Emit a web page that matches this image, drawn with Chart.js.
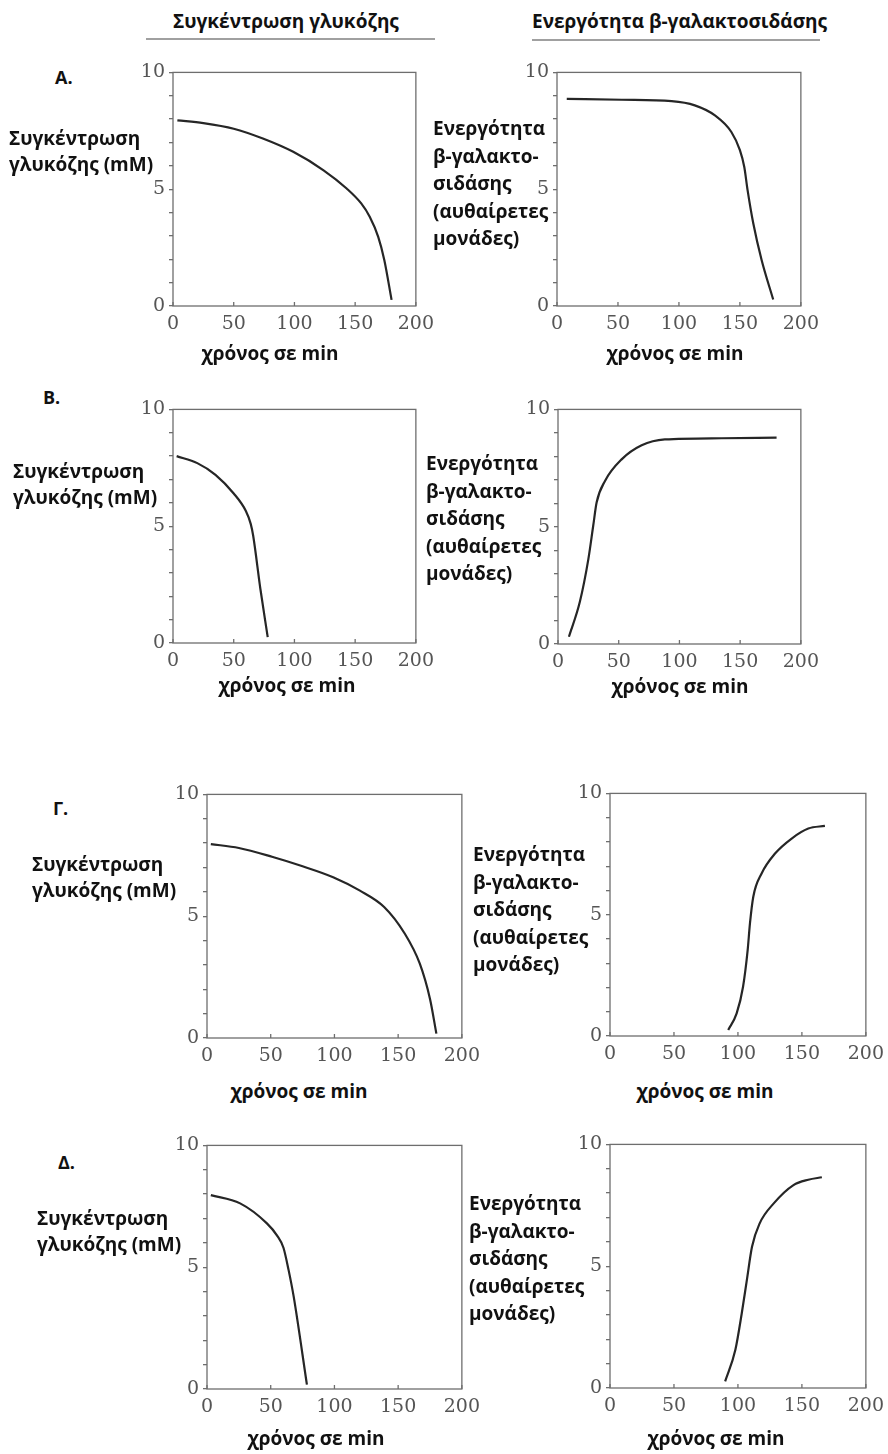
<!DOCTYPE html>
<html lang="el">
<head>
<meta charset="utf-8">
<script src="https://cdn.jsdelivr.net/npm/chart.js@4.4.0/dist/chart.umd.min.js"></script>
<style>
  body { margin: 0; width: 888px; height: 1454px; background: #fff; position: relative; overflow: hidden; font-family: "Open Sans", sans-serif; }
  canvas { position: absolute; z-index: 1; }
  .t { position: absolute; z-index: 2; font-weight: 700; font-size: 19px; color: #111; white-space: nowrap; line-height: 26px; }
  .r { line-height: 27.5px; }
  .c { transform: translateX(-50%); }
  .p { font-size: 18px; }
  .rule { position: absolute; height: 0; border-top: 2px solid #a0a0a0; }
</style>
</head>
<body>

<div class="t" style="left:173px;top:8px">Συγκέντρωση γλυκόζης</div>
<div class="rule" style="left:146px;top:38px;width:289px"></div>
<div class="t" style="left:532px;top:8px">Ενεργότητα β-γαλακτοσιδάσης</div>
<div class="rule" style="left:532px;top:39px;width:288px"></div>

<div class="t p" style="left:55px;top:64px">Α.</div>
<div class="t p" style="left:43px;top:384px">Β.</div>
<div class="t p" style="left:53px;top:795px">Γ.</div>
<div class="t p" style="left:58px;top:1149px">Δ.</div>

<div class="t" style="left:9px;top:125px">Συγκέντρωση<br>γλυκόζης (mM)</div>
<div class="t" style="left:13px;top:458px">Συγκέντρωση<br>γλυκόζης (mM)</div>
<div class="t" style="left:32px;top:851px">Συγκέντρωση<br>γλυκόζης (mM)</div>
<div class="t" style="left:37px;top:1205px">Συγκέντρωση<br>γλυκόζης (mM)</div>

<div class="t r" style="left:433px;top:115px">Ενεργότητα<br>β-γαλακτο-<br>σιδάσης<br>(αυθαίρετες<br>μονάδες)</div>
<div class="t r" style="left:426px;top:450px">Ενεργότητα<br>β-γαλακτο-<br>σιδάσης<br>(αυθαίρετες<br>μονάδες)</div>
<div class="t r" style="left:473px;top:841px">Ενεργότητα<br>β-γαλακτο-<br>σιδάσης<br>(αυθαίρετες<br>μονάδες)</div>
<div class="t r" style="left:469px;top:1190px">Ενεργότητα<br>β-γαλακτο-<br>σιδάσης<br>(αυθαίρετες<br>μονάδες)</div>

<div class="t c" style="left:270px;top:340px">χρόνος σε min</div>
<div class="t c" style="left:675px;top:340px">χρόνος σε min</div>
<div class="t c" style="left:287px;top:672px">χρόνος σε min</div>
<div class="t c" style="left:680px;top:673px">χρόνος σε min</div>
<div class="t c" style="left:299px;top:1078px">χρόνος σε min</div>
<div class="t c" style="left:705px;top:1078px">χρόνος σε min</div>
<div class="t c" style="left:316px;top:1425px">χρόνος σε min</div>
<div class="t c" style="left:716px;top:1425px">χρόνος σε min</div>

<canvas id="aL"></canvas>
<canvas id="aR"></canvas>
<canvas id="bL"></canvas>
<canvas id="bR"></canvas>
<canvas id="gL"></canvas>
<canvas id="gR"></canvas>
<canvas id="dL"></canvas>
<canvas id="dR"></canvas>

<script>
// ---------------- Δεδομένα (χρόνος σε min / τιμές) ----------------
const xTicks = [0, 50, 100, 150, 200];
const yLabels = [0, 5, 10];

// Α.
const glucoseA_t = [3.6, 25, 50, 74, 99, 124, 143, 155, 162, 169, 174, 180];
const glucoseA_c = [7.95, 7.83, 7.59, 7.17, 6.6, 5.81, 5.03, 4.39, 3.82, 2.96, 1.97, 0.26];
const galA_t = [8, 53, 94, 113, 129.5, 143, 150, 153.6, 156.3, 161, 167.8, 177.3];
const galA_v = [8.87, 8.83, 8.77, 8.59, 8.16, 7.45, 6.67, 5.95, 4.96, 3.53, 1.97, 0.28];

// Β.
const glucoseB_t = [3, 20, 35, 50, 60, 64, 66, 72, 78];
const glucoseB_c = [8.0, 7.7, 7.2, 6.4, 5.65, 5.1, 4.6, 2.3, 0.25];
const galB_t = [9, 18, 25, 29, 31.8, 38.7, 52.4, 68.9, 88, 134.7, 180];
const galB_v = [0.31, 1.8, 3.62, 5.04, 6.03, 6.95, 7.87, 8.47, 8.72, 8.77, 8.8];

// Γ.
const glucoseG_t = [3, 25, 51, 75, 99, 120, 139, 155, 167, 175, 180];
const glucoseG_c = [7.96, 7.8, 7.44, 7.05, 6.6, 6.05, 5.38, 4.3, 3.05, 1.6, 0.18];
const galG_t = [92.4, 99, 104, 107.6, 109.4, 112, 118.5, 129, 142, 155, 168];
const galG_v = [0.25, 0.93, 2.03, 3.54, 4.64, 5.74, 6.7, 7.52, 8.14, 8.55, 8.66];

// Δ.
const glucoseD_t = [3, 26, 47, 55, 60, 64, 68, 78.4];
const glucoseD_c = [7.96, 7.62, 6.8, 6.3, 5.8, 4.89, 3.8, 0.18];
const galD_t = [90, 98, 103, 107, 111, 117, 128, 143.4, 155, 165.6];
const galD_v = [0.27, 1.57, 3.07, 4.44, 5.8, 6.76, 7.58, 8.33, 8.55, 8.65];

// ---------------- Πλαίσιο + εσωτερικά ticks στον άξονα x ----------------
const frame = {
  id: 'frame',
  afterDraw(chart) {
    const { ctx, chartArea: a, scales: { x } } = chart;
    ctx.save();
    ctx.strokeStyle = '#6e6e6e';
    ctx.lineWidth = 1.3;
    ctx.strokeRect(a.left, a.top, a.right - a.left, a.bottom - a.top);
    xTicks.forEach(v => {
      const px = x.getPixelForValue(v);
      ctx.beginPath();
      ctx.moveTo(px, a.bottom);
      ctx.lineTo(px, a.bottom - 4);
      ctx.stroke();
    });
    ctx.restore();
  }
};

Chart.defaults.font.family = 'DejaVu Serif';
const tickFont = { family: 'DejaVu Serif', size: 19 };

function drawPanel(id, left, top, right, bottom, t, v) {
  const cv = document.getElementById(id);
  cv.width = right - left + 75;
  cv.height = bottom - top + 55;
  cv.style.left = (left - 50) + 'px';
  cv.style.top = (top - 15) + 'px';

  new Chart(cv, {
    type: 'line',
    data: {
      datasets: [{
        data: t.map((x, i) => ({ x: x, y: v[i] })),
        borderColor: '#262626',
        borderWidth: 2.2,
        pointRadius: 0,
        cubicInterpolationMode: 'monotone',
        fill: false
      }]
    },
    options: {
      responsive: false,
      animation: false,
      events: [],
      layout: { padding: { top: 15, right: 25, left: 0, bottom: 0 } },
      plugins: { legend: { display: false }, tooltip: { enabled: false } },
      scales: {
        x: {
          type: 'linear', min: 0, max: 200,
          afterBuildTicks: s => { s.ticks = xTicks.map(value => ({ value })); },
          grid: { display: false, drawTicks: false },
          border: { display: false },
          ticks: { font: tickFont, color: '#555', padding: 7, maxRotation: 0, autoSkip: false },
          afterFit: s => { s.height = 40; }
        },
        y: {
          min: 0, max: 10,
          ticks: {
            stepSize: 1, autoSkip: false,
            callback: val => yLabels.includes(val) ? val : '',
            font: tickFont, color: '#555', padding: 4
          },
          grid: { drawOnChartArea: false, tickLength: 4, color: '#6e6e6e', lineWidth: 1.3 },
          border: { display: false },
          afterFit: s => { s.width = 50; }
        }
      }
    },
    plugins: [frame]
  });
}

drawPanel('aL', 173, 72, 416, 306, glucoseA_t, glucoseA_c);
drawPanel('aR', 557, 72, 801, 306, galA_t, galA_v);
drawPanel('bL', 173, 409, 416, 643, glucoseB_t, glucoseB_c);
drawPanel('bR', 558, 409, 801, 644, galB_t, galB_v);
drawPanel('gL', 207, 794, 462, 1038, glucoseG_t, glucoseG_c);
drawPanel('gR', 610, 793, 866, 1036, galG_t, galG_v);
drawPanel('dL', 207, 1145, 462, 1389, glucoseD_t, glucoseD_c);
drawPanel('dR', 610, 1144, 866, 1388, galD_t, galD_v);
</script>
</body>
</html>
